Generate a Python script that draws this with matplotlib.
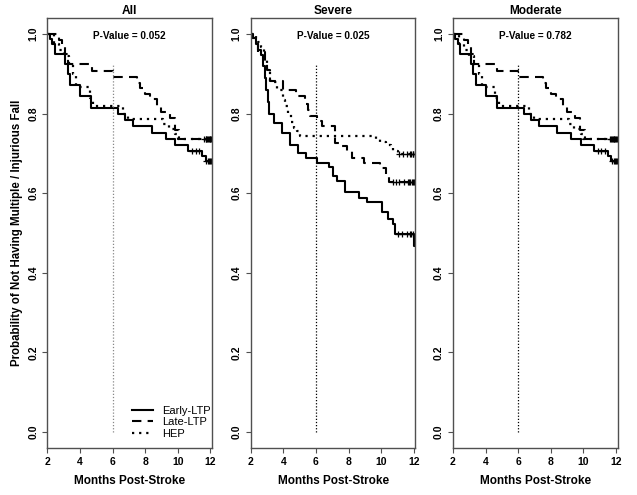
import matplotlib
matplotlib.use("Agg")
import matplotlib.pyplot as plt
import numpy as np

# Kaplan-Meier style step curves (months post-stroke, survival)
GROUPS   = ["Early-LTP", "Late-LTP", "HEP"]
PANELS   = ["All", "Severe", "Moderate"]
P_VALUES = ["0.052", "0.025", "0.782"]
X_TICKS  = [2, 4, 6, 8, 10, 12]
Y_TICKS  = [0.0, 0.2, 0.4, 0.6, 0.8, 1.0]
CUTOFF_MONTH = 6
CUTOFF_TOP   = 0.925
FOLLOW_END   = 12.1

# --- All ---
ALL_EARLY_T = [2.15, 2.3, 2.45, 3.1, 3.25, 3.4, 4.0, 4.7, 6.35, 6.77, 7.27, 8.4, 9.25, 9.85, 10.65, 11.5, 11.7]
ALL_EARLY_S = [0.987, 0.975, 0.95, 0.925, 0.90, 0.873, 0.844, 0.815, 0.798, 0.783, 0.768, 0.752, 0.735, 0.72, 0.706, 0.693, 0.68]
ALL_EARLY_C = [10.9, 11.1, 11.3, 11.75, 11.85, 11.92, 11.98, 12.05]

ALL_LATE_T = [2.7, 2.9, 3.1, 3.27, 4.72, 6.0, 7.5, 7.7, 8.0, 8.3, 8.75, 9.0, 9.5, 9.8, 10.1]
ALL_LATE_S = [0.985, 0.97, 0.95, 0.925, 0.908, 0.893, 0.878, 0.864, 0.849, 0.836, 0.82, 0.804, 0.789, 0.76, 0.735]
ALL_LATE_C = [11.6, 11.75, 11.85, 11.95, 12.05]

ALL_HEP_T = [2.4, 2.7, 3.0, 3.3, 3.6, 3.75, 4.6, 4.8, 6.65, 6.95, 9.1, 9.45, 9.85, 10.0]
ALL_HEP_S = [0.975, 0.96, 0.945, 0.925, 0.90, 0.867, 0.84, 0.818, 0.80, 0.787, 0.775, 0.762, 0.748, 0.735]
ALL_HEP_C = [11.7, 11.8, 11.9, 12.0]

# --- Severe ---
SEV_EARLY_T = [2.1, 2.3, 2.45, 2.6, 2.75, 2.85, 2.95, 3.05, 3.15, 3.4, 3.9, 4.4, 4.9, 5.4, 6.05,
               6.8, 7.05, 7.3, 7.8, 8.65, 9.15, 10.05, 10.4, 10.7, 10.85, 12.03]
SEV_EARLY_S = [0.99, 0.975, 0.96, 0.948, 0.92, 0.89, 0.86, 0.83, 0.80, 0.777, 0.75, 0.72, 0.70, 0.688, 0.677,
               0.665, 0.643, 0.631, 0.602, 0.589, 0.577, 0.552, 0.535, 0.522, 0.4975, 0.468]
SEV_EARLY_C = [11.0, 11.3, 11.6, 11.75, 11.85, 11.95]

SEV_LATE_T = [2.15, 2.3, 2.45, 2.9, 3.0, 3.2, 3.95, 4.8, 5.35, 5.5, 5.65, 6.05, 6.4, 7.15, 7.4,
              7.9, 8.2, 8.95, 9.9, 10.3, 10.5]
SEV_LATE_S = [0.99, 0.975, 0.955, 0.93, 0.91, 0.8825, 0.858, 0.845, 0.825, 0.81, 0.793, 0.782, 0.768, 0.727, 0.718,
              0.706, 0.689, 0.677, 0.664, 0.64, 0.627]
SEV_LATE_C = [10.7, 10.9, 11.1, 11.4, 11.65, 11.72, 11.79, 11.86, 11.93, 12.0, 12.06]

SEV_HEP_T = [2.3, 2.45, 2.6, 2.83, 3.0, 3.2, 3.6, 3.95, 4.1, 4.3, 4.45, 4.65, 4.85, 5.0,
             9.7, 9.9, 10.3, 10.6, 10.75, 11.0]
SEV_HEP_S = [0.99, 0.98, 0.967, 0.935, 0.91, 0.88, 0.86, 0.835, 0.82, 0.80, 0.78, 0.765, 0.755, 0.743,
             0.735, 0.728, 0.72, 0.715, 0.706, 0.6975]
SEV_HEP_C = [11.1, 11.35, 11.6, 11.75, 11.85, 11.92, 11.98, 12.05]

# --- Moderate (the published panel repeats the All curves) ---
MOD_EARLY_T, MOD_EARLY_S, MOD_EARLY_C = ALL_EARLY_T, ALL_EARLY_S, ALL_EARLY_C
MOD_LATE_T,  MOD_LATE_S,  MOD_LATE_C  = ALL_LATE_T,  ALL_LATE_S,  ALL_LATE_C
MOD_HEP_T,   MOD_HEP_S,   MOD_HEP_C   = ALL_HEP_T,   ALL_HEP_S,   ALL_HEP_C

PANEL_DATA = [
    [(ALL_EARLY_T, ALL_EARLY_S, ALL_EARLY_C), (ALL_LATE_T, ALL_LATE_S, ALL_LATE_C), (ALL_HEP_T, ALL_HEP_S, ALL_HEP_C)],
    [(SEV_EARLY_T, SEV_EARLY_S, SEV_EARLY_C), (SEV_LATE_T, SEV_LATE_S, SEV_LATE_C), (SEV_HEP_T, SEV_HEP_S, SEV_HEP_C)],
    [(MOD_EARLY_T, MOD_EARLY_S, MOD_EARLY_C), (MOD_LATE_T, MOD_LATE_S, MOD_LATE_C), (MOD_HEP_T, MOD_HEP_S, MOD_HEP_C)],
]

STYLES = [
    dict(ls="-", lw=1.5),
    dict(ls=(0, (4.5, 3)), lw=1.5),
    dict(ls=(0, (1, 2.2)), lw=1.6),
]

plt.rcParams["font.family"] = ["Liberation Sans", "DejaVu Sans"]
FRAME = "#505050"


def step_xy(times, surv):
    x = np.concatenate([[2.0], times, [FOLLOW_END]])
    y = np.concatenate([[1.0], surv, [surv[-1]]])
    return x, y


def surv_at(times, surv, t):
    vals = np.concatenate([[1.0], surv])
    idx = np.searchsorted(np.asarray(times), np.asarray(t), side="right")
    return vals[idx]


fig = plt.figure(figsize=(6.37, 4.95), dpi=100)
lefts = [0.0743, 0.3936, 0.7111]
axes = []
for i, left in enumerate(lefts):
    ax = fig.add_axes([left, 0.0949, 0.2586, 0.8687])
    axes.append(ax)
    for (t, s, c), st, name in zip(PANEL_DATA[i], STYLES, GROUPS):
        x, y = step_xy(t, s)
        ax.step(x, y, where="post", color="black", label=name, **st)
        ax.plot(c, surv_at(t, s, c), ls="none", marker="+", ms=5, mew=0.9, color="black")

    vcol = "#888888" if i == 0 else "black"
    ax.plot([CUTOFF_MONTH, CUTOFF_MONTH], [0, CUTOFF_TOP], color=vcol, ls=(0, (1, 1.5)), lw=0.9)

    ax.text(7.05, 0.996, f"P-Value = {P_VALUES[i]}", ha="center", va="center",
            fontsize=7.2, fontweight="bold")
    ax.set_title(PANELS[i], fontsize=8.6, fontweight="bold", pad=3)

    ax.set_xlim(2, FOLLOW_END)
    ax.set_ylim(-0.04, 1.04)
    ax.set_xticks(X_TICKS)
    ax.set_yticks(Y_TICKS)
    ax.set_xticklabels([str(v) for v in X_TICKS], fontweight="bold", fontsize=7.5)
    ax.set_yticklabels([f"{v:.1f}" for v in Y_TICKS], fontweight="bold", fontsize=7.5,
                       rotation=90, va="center")
    ax.tick_params(direction="out", length=3.5, width=0.8, color=FRAME, pad=3)
    for sp in ax.spines.values():
        sp.set_color(FRAME)
        sp.set_linewidth(1.0)
    ax.set_xlabel("Months Post-Stroke", fontsize=8.5, fontweight="bold", labelpad=6)

axes[0].set_ylabel("Probability of Not Having Multiple / Injurious Fall",
                   fontsize=8.3, fontweight="bold", labelpad=4)
axes[0].legend(loc="lower right", bbox_to_anchor=(0.99, 0.022), frameon=False,
               fontsize=8.0, handlelength=1.9, handletextpad=0.75, labelspacing=0.12,
               borderaxespad=0.0, borderpad=0.0)

fig.savefig("out.png", dpi=100)
